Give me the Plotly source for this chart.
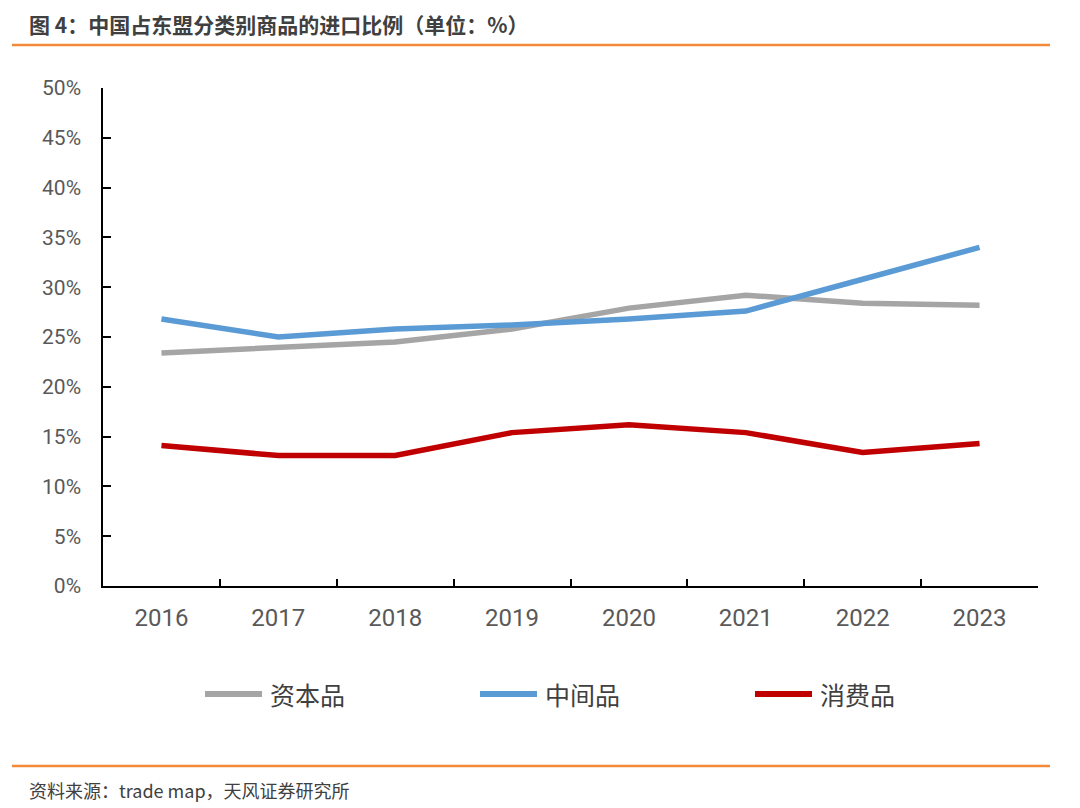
import plotly.graph_objects as go

years = ["2016", "2017", "2018", "2019", "2020", "2021", "2022", "2023"]
capital_goods = [23.4, 23.9, 24.5, 25.8, 27.9, 29.2, 28.4, 28.2]
intermediate_goods = [26.8, 25.0, 25.8, 26.2, 26.8, 27.6, 30.8, 34.0]
consumer_goods = [14.1, 13.1, 13.1, 15.4, 16.2, 15.4, 13.4, 14.3]
y_ticks = [0, 5, 10, 15, 20, 25, 30, 35, 40, 45, 50]
y_tick_labels = [f"{v}%" for v in y_ticks]

series_names = ["资本品", "中间品", "消费品"]
series_values = [capital_goods, intermediate_goods, consumer_goods]
series_colors = ["#A5A5A5", "#5B9BD5", "#C00000"]

title_text = "图 4：中国占东盟分类别商品的进口比例（单位：%）"
source_text = "资料来源：trade map，天风证券研究所"

ORANGE = "#F28A3A"
CJK = "Noto Sans CJK SC"

# page body offset is 8px; figure coordinates derived from page coordinates
OFF = 8
W, H = 1072, 800
L, R, T, B = 103 - OFF, 42, 88 - OFF, 222
PW, PH = W - L - R, H - T - B


def px(xp):
    return (xp - OFF - L) / PW


def py(yp):
    return 1 - (yp - OFF - T) / PH


fig = go.Figure()
for name, vals, col in zip(series_names, series_values, series_colors):
    fig.add_trace(go.Scatter(
        x=years, y=vals, mode="lines", name=name,
        line=dict(color=col, width=5.5),
        showlegend=False,
    ))

fig.update_layout(
    width=W, height=H,
    margin=dict(l=L, r=R, t=T, b=B),
    paper_bgcolor="white", plot_bgcolor="white",
    font=dict(family="Roboto, " + CJK, color="#595959"),
)

fig.update_xaxes(
    type="category", range=[-0.5, 7.5],
    showline=True, linecolor="#000000", linewidth=1.5,
    ticks="inside", ticklen=7, tickwidth=1.5, tickcolor="#000000",
    tickson="boundaries", showgrid=False, zeroline=False,
    tickfont=dict(size=24, color="#595959"),
    ticklabelstandoff=9,
)
fig.update_yaxes(
    range=[0, 50], tickvals=y_ticks, ticktext=y_tick_labels,
    showline=True, linecolor="#000000", linewidth=1.5,
    ticks="inside", ticklen=8, tickwidth=1.5, tickcolor="#000000",
    showgrid=False, zeroline=False,
    tickfont=dict(size=21, color="#595959"),
    ticklabelstandoff=16,
)

# title and separators
fig.add_annotation(
    xref="paper", yref="paper", x=px(27), y=py(24),
    xanchor="left", yanchor="middle", showarrow=False,
    text="<b>" + title_text + "</b>",
    font=dict(family=CJK, size=21, color="#404040"),
)
fig.add_shape(type="line", xref="paper", yref="paper",
              x0=px(12), x1=px(1050), y0=py(45), y1=py(45),
              line=dict(color=ORANGE, width=2.5))
fig.add_shape(type="line", xref="paper", yref="paper",
              x0=px(12), x1=px(1050), y0=py(766), y1=py(766),
              line=dict(color=ORANGE, width=2.5))
fig.add_annotation(
    xref="paper", yref="paper", x=px(27), y=py(790),
    xanchor="left", yanchor="middle", showarrow=False,
    text=source_text,
    font=dict(family=CJK, size=18, color="#404040"),
)

# legend (manual)
legend_x = [205, 480, 755]
for lx, name, col in zip(legend_x, series_names, series_colors):
    fig.add_shape(type="line", xref="paper", yref="paper",
                  x0=px(lx), x1=px(lx + 57), y0=py(694), y1=py(694),
                  line=dict(color=col, width=6))
    fig.add_annotation(
        xref="paper", yref="paper", x=px(lx + 63), y=py(694),
        xanchor="left", yanchor="middle", showarrow=False,
        text=name,
        font=dict(family=CJK, size=25, color="#404040"),
    )

fig.write_html("out.html")
